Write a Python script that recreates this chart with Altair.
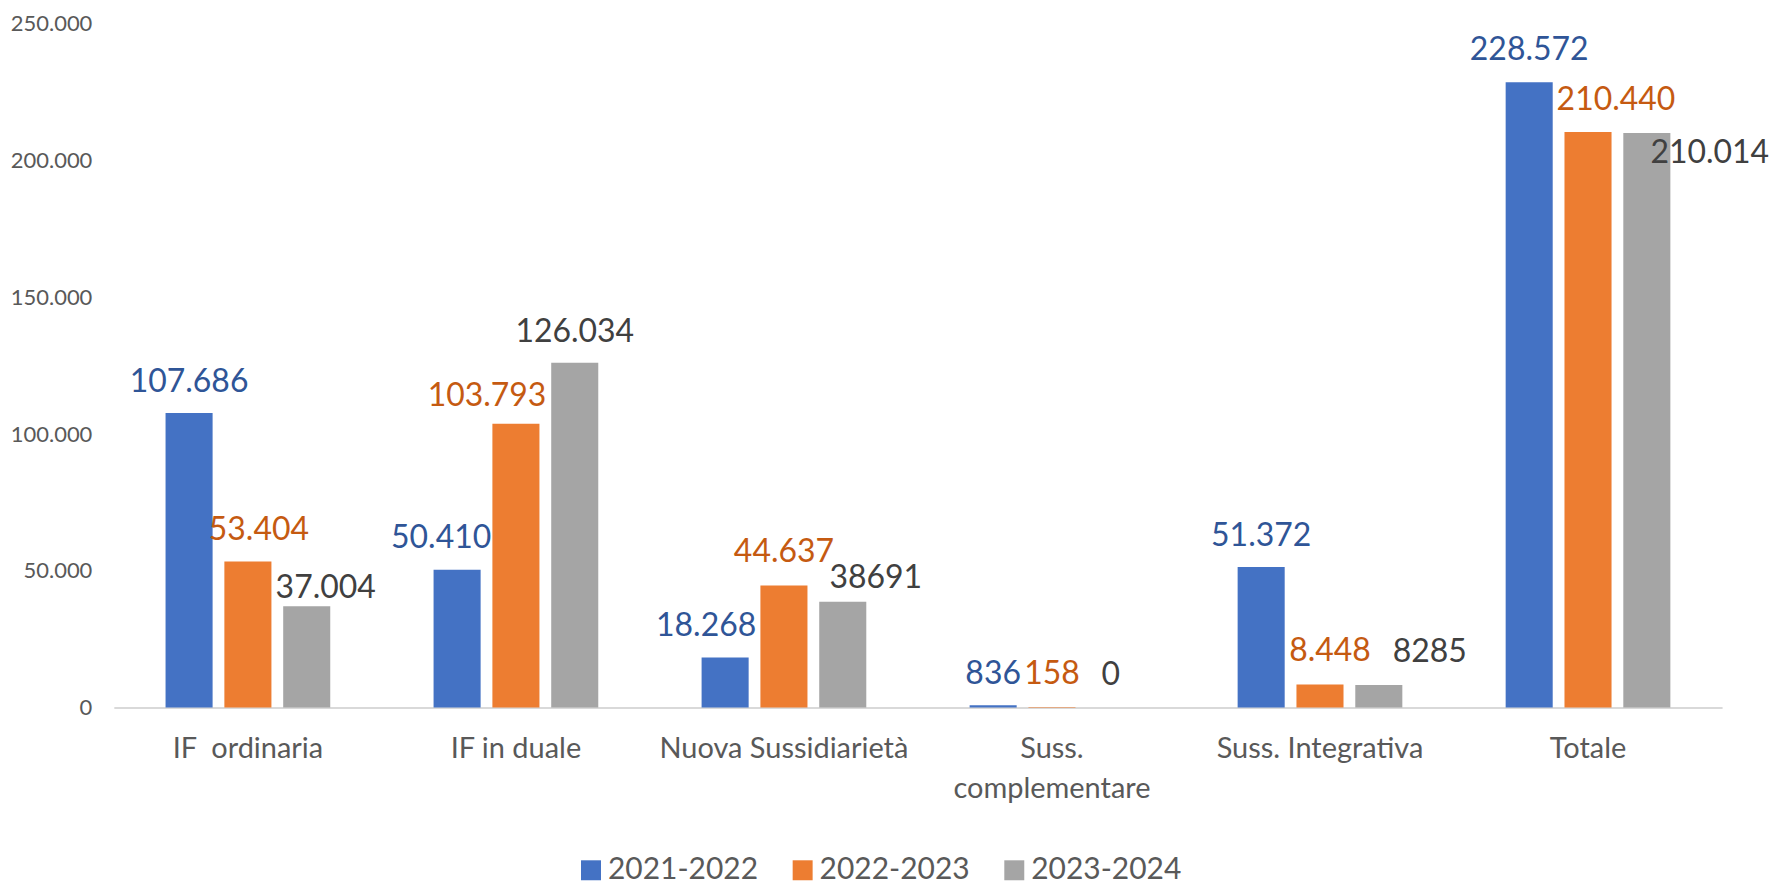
import altair as alt
import pandas as pd

categories = ["IF  ordinaria", "IF in duale", "Nuova Sussidiarietà",
              "Suss. complementare", "Suss. Integrativa", "Totale"]
series = ["2021-2022", "2022-2023", "2023-2024"]

v2122 = [107686, 50410, 18268, 836, 51372, 228572]
v2223 = [53404, 103793, 44637, 158, 8448, 210440]
v2324 = [37004, 126034, 38691, 0, 8285, 210014]

t2122 = ["107.686", "50.410", "18.268", "836", "51.372", "228.572"]
t2223 = ["53.404", "103.793", "44.637", "158", "8.448", "210.440"]
t2324 = ["37.004", "126.034", "38691", "0", "8285", "210.014"]

bar_colors = ["#4472C4", "#ED7D31", "#A5A5A5"]
label_colors = ["#2F5597", "#C55A11", "#404040"]

# label nudges (pixels) as placed in the original, per series / category
nudge_dx = [[0, -16, -19, 0, 0, 0],
            [11, -29, 0, 0, 10, 28],
            [19, 0, 33, 0, 51, 63]]
nudge_dy = [[-21, -22, -22, -21, -21, -22],
            [-22, -18, -23, -23, -23, -22],
            [-8, -21, -14, -23, -23, 30]]

rows = []
idx = 0
for s_i, (s, vals, texts) in enumerate(zip(series, [v2122, v2223, v2324], [t2122, t2223, t2324])):
    for c_i, c in enumerate(categories):
        rows.append({"idx": idx, "cat": c, "series": s, "value": vals[c_i], "label": texts[c_i],
                     "s_i": s_i, "c_i": c_i})
        idx += 1
df = pd.DataFrame(rows)

FONT = "Lato"
AX_COL = "#595959"

x_enc = alt.X("cat:N", sort=categories, title=None,
              scale=alt.Scale(paddingInner=0.3855, paddingOuter=0.193),
              axis=alt.Axis(labelAngle=0, ticks=False, labelPadding=27, labelFontSize=29,
                            labelColor=AX_COL, labelFont=FONT, domainColor="#D9D9D9",
                            domainWidth=2, grid=False, labelLineHeight=40, labelLimit=0,
                            labelExpr="datum.value == 'Suss. complementare' ? ['Suss.', 'complementare'] : replace(datum.value, '  ', ' \u00a0')"))
xoff_enc = alt.XOffset("series:N", sort=series,
                       scale=alt.Scale(paddingInner=0.2, paddingOuter=0))
y_enc = alt.Y("value:Q", title=None,
              scale=alt.Scale(domain=[0, 250000], nice=False),
              axis=alt.Axis(values=[0, 50000, 100000, 150000, 200000, 250000], grid=False,
                            domain=False, ticks=False, labelPadding=22, labelFontSize=22,
                            labelColor=AX_COL, labelFont=FONT,
                            labelExpr="replace(format(datum.value, ','), ',', '.')"))

bars = alt.Chart(df).mark_bar().encode(
    x=x_enc, xOffset=xoff_enc, y=y_enc,
    color=alt.Color("series:N", sort=series,
                    scale=alt.Scale(domain=series, range=bar_colors),
                    legend=alt.Legend(title=None, orient="none", direction="horizontal",
                                      legendX=463, legendY=833, symbolType="square",
                                      symbolSize=400, symbolStrokeWidth=0,
                                      labelFontSize=30, labelFont=FONT, labelColor=AX_COL,
                                      labelOffset=2, columnPadding=29, padding=0,
                                      labelLimit=0)),
)

layers = [bars]
for r in rows:
    s_i, c_i = r["s_i"], r["c_i"]
    layers.append(
        alt.Chart(df).transform_filter(alt.datum.idx == r["idx"]).mark_text(
            font=FONT, fontSize=32, baseline="alphabetic", align="center",
            color=label_colors[s_i], dx=nudge_dx[s_i][c_i], dy=nudge_dy[s_i][c_i]
        ).encode(x=x_enc, xOffset=xoff_enc, y=y_enc, text="label:N")
    )

chart = alt.layer(*layers).properties(
    width=1611, height=685,
    autosize=alt.AutoSizeParams(type="none"),
    padding={"left": 106, "top": 15, "right": 50, "bottom": 178},
).configure_view(stroke=None)

chart.save("out.html", embed_options={"renderer": "svg", "actions": False})
